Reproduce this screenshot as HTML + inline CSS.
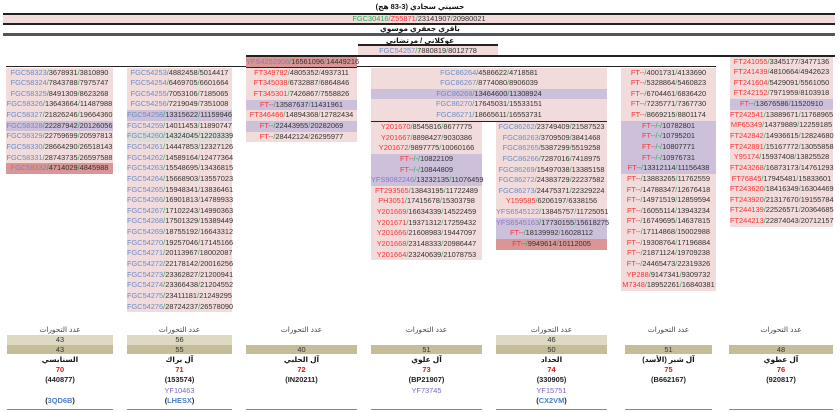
<!DOCTYPE html>
<html><head><meta charset="utf-8"><style>
*{margin:0;padding:0;box-sizing:border-box}
body{width:840px;height:412px;background:#fff;position:relative;overflow:hidden;font-family:"Liberation Sans","DejaVu Sans",sans-serif;font-size:7.4px;color:#333}
.a{position:absolute}
.c{position:absolute;text-align:center}
.c div{height:10.65px;line-height:10.65px;background:#f2dcdb;white-space:nowrap}
.c div.p{background:#ccc0da}.c div.d{background:#da9694}.c div.g{background:#dcdcd8}
b,i,u,s{font-weight:normal;font-style:normal;text-decoration:none}
b{color:#6c8cc6}i{color:#ff3030}u{color:#8a78be}s{color:#1fb050}
.ln{position:absolute;background:#222}
.t{position:absolute;text-align:center;font-weight:bold;color:#111;font-size:7.4px}
.bc{position:absolute;text-align:center;font-size:7.4px}
.bc .l{height:10px;line-height:10px;color:#444}
.bc .r1{height:9.5px;line-height:9.5px;background:#ddd9c3}
.bc .r2{height:9.5px;line-height:9.5px;background:#c4bd97}
.bc .e{height:9.5px}
.bc .n{height:10.5px;line-height:11px;font-weight:bold;color:#111}
.bc .x{height:10.5px;line-height:10.5px;font-weight:bold;color:#e01010}
.bc .k{height:10.5px;line-height:10.5px;font-weight:bold;color:#222}
.bc .y{height:10.5px;line-height:10.5px;color:#7b68b6}
.bc .q{height:10.5px;line-height:10.5px;font-weight:bold;color:#222}
.bc .q span{color:#4a7ec8}
.bc .bl{height:1.5px;background:#888;margin-top:2px}
</style></head><body>
<div class="t" style="left:0;width:840px;top:2px">حسيني سجادي (3-83 هج)</div>
<div class="ln" style="left:3px;width:832px;top:13px;height:2px"></div>
<div class="c" style="left:3px;width:832px;top:15px"><div style="height:8px;line-height:8px"><s>FGC30416</s><s>/</s><i>Z55871</i><s>/</s>23141907<s>/</s>20980021</div></div>
<div class="ln" style="left:3px;width:832px;top:23px;height:2px"></div>
<div class="t" style="left:0;width:840px;top:24px">باقري جعفري موسوي</div>
<div class="ln" style="left:3px;width:832px;top:33px;height:2.5px;background:#555"></div>
<div class="t" style="left:0;width:840px;top:36px">عوكلاني / مرتضاني</div>
<div class="ln" style="left:358px;width:140px;top:44px;height:1.5px"></div>
<div class="c" style="left:358px;width:140px;top:45.5px"><div style="height:9px;line-height:9px"><b>FGC54257</b><s>/</s>7880819<s>/</s>8012778</div></div>
<div class="ln" style="left:246px;width:589px;top:55px;height:1.5px"></div>
<div class="ln" style="left:6px;width:710px;top:66px;height:1.3px"></div>

<div class="c" style="left:6px;width:107px;top:67.5px">
<div><b>FGC58323</b><s>/</s>3678931<s>/</s>3810890</div>
<div><b>FGC58324</b><s>/</s>7843788<s>/</s>7975747</div>
<div><b>FGC58325</b><s>/</s>8491309<s>/</s>8623268</div>
<div><b>FGC58326</b><s>/</s>13643664<s>/</s>11487988</div>
<div><b>FGC58327</b><s>/</s>21826246<s>/</s>19664360</div>
<div class="p"><b>FGC58328</b><s>/</s>22287942<s>/</s>20126056</div>
<div><b>FGC58329</b><s>/</s>22759699<s>/</s>20597813</div>
<div><b>FGC58330</b><s>/</s>28664290<s>/</s>26518143</div>
<div><b>FGC58331</b><s>/</s>28743735<s>/</s>26597588</div>
<div class="d"><b>FGC58332</b><s>/</s>4714029<s>/</s>4845988</div>
</div>

<div class="c" style="left:127px;width:105px;top:67.5px">
<div><b>FGC54253</b><s>/</s>4882458<s>/</s>5014417</div>
<div><b>FGC54254</b><s>/</s>6469705<s>/</s>6601664</div>
<div><b>FGC54255</b><s>/</s>7053106<s>/</s>7185065</div>
<div><b>FGC54256</b><s>/</s>7219049<s>/</s>7351008</div>
<div class="p"><b>FGC54258</b><s>/</s>13315622<s>/</s>11159946</div>
<div><b>FGC54259</b><s>/</s>14011453<s>/</s>11890747</div>
<div class="g"><b>FGC54260</b><s>/</s>14324045<s>/</s>12203339</div>
<div><b>FGC54261</b><s>/</s>14447853<s>/</s>12327126</div>
<div><b>FGC54262</b><s>/</s>14589164<s>/</s>12477364</div>
<div><b>FGC54263</b><s>/</s>15548695<s>/</s>13436815</div>
<div><b>FGC54264</b><s>/</s>15668903<s>/</s>13557023</div>
<div><b>FGC54265</b><s>/</s>15948341<s>/</s>13836461</div>
<div><b>FGC54266</b><s>/</s>16901813<s>/</s>14789933</div>
<div><b>FGC54267</b><s>/</s>17102243<s>/</s>14990363</div>
<div><b>FGC54268</b><s>/</s>17501329<s>/</s>15389449</div>
<div><b>FGC54269</b><s>/</s>18755192<s>/</s>16643312</div>
<div><b>FGC54270</b><s>/</s>19257046<s>/</s>17145166</div>
<div><b>FGC54271</b><s>/</s>20113967<s>/</s>18002087</div>
<div><b>FGC54272</b><s>/</s>22178142<s>/</s>20016256</div>
<div><b>FGC54273</b><s>/</s>23362827<s>/</s>21200941</div>
<div><b>FGC54274</b><s>/</s>23366438<s>/</s>21204552</div>
<div><b>FGC54275</b><s>/</s>23411181<s>/</s>21249295</div>
<div><b>FGC54276</b><s>/</s>28724237<s>/</s>26578090</div>
</div>

<div class="c" style="left:246px;width:111px;top:56.5px">
<div class="d" style="height:10px;line-height:10px"><u>YFS4252908</u><s>/</s>16561096<s>/</s>14449216</div>
<div style="height:1.3px;background:#222"></div>
<div><i>FT349782</i><s>/</s>4805352<s>/</s>4937311</div>
<div><i>FT345038</i><s>/</s>6732887<s>/</s>6864846</div>
<div><i>FT345301</i><s>/</s>7426867<s>/</s>7558826</div>
<div class="p"><i>FT--</i><s>/</s>13587637<s>/</s>11431961</div>
<div><i>FT346466</i><s>/</s>14894368<s>/</s>12782434</div>
<div class="p"><i>FT--</i><s>/</s>22443955<s>/</s>20282069</div>
<div><i>FT--</i><s>/</s>28442124<s>/</s>26295977</div>
</div>

<div class="c" style="left:371px;width:236px;top:67.5px">
<div><b>FGC86264</b><s>/</s>4586622<s>/</s>4718581</div>
<div><b>FGC86267</b><s>/</s>8774080<s>/</s>8906039</div>
<div class="p"><b>FGC86268</b><s>/</s>13464600<s>/</s>11308924</div>
<div><b>FGC86270</b><s>/</s>17645031<s>/</s>15533151</div>
<div><b>FGC86271</b><s>/</s>18665611<s>/</s>16553731</div>
</div>
<div class="ln" style="left:371px;width:236px;top:120.5px;height:1.5px"></div>

<div class="c" style="left:371px;width:111px;top:122px">
<div><i>Y201670</i><s>/</s>8545816<s>/</s>8677775</div>
<div><i>Y201667</i><s>/</s>8898427<s>/</s>9030386</div>
<div><i>Y201672</i><s>/</s>9897775<s>/</s>10060166</div>
<div class="p"><i>FT--</i><s>/-/</s>10822109</div>
<div class="p"><i>FT--</i><s>/-/</s>10844809</div>
<div class="p"><u>YFS9082246</u><s>/</s>13232135<s>/</s>11076459</div>
<div><i>FT293565</i><s>/</s>13843195<s>/</s>11722489</div>
<div><i>PH3051</i><s>/</s>17415678<s>/</s>15303798</div>
<div><i>Y201669</i><s>/</s>16634339<s>/</s>14522459</div>
<div><i>Y201671</i><s>/</s>19371312<s>/</s>17259432</div>
<div><i>Y201666</i><s>/</s>21608983<s>/</s>19447097</div>
<div><i>Y201668</i><s>/</s>23148333<s>/</s>20986447</div>
<div><i>Y201664</i><s>/</s>23240639<s>/</s>21078753</div>
</div>

<div class="c" style="left:496px;width:111px;top:122px">
<div><b>FGC86262</b><s>/</s>23749409<s>/</s>21587523</div>
<div><b>FGC86263</b><s>/</s>3709509<s>/</s>3841468</div>
<div><b>FGC86265</b><s>/</s>5387299<s>/</s>5519258</div>
<div><b>FGC86266</b><s>/</s>7287016<s>/</s>7418975</div>
<div><b>FGC86269</b><s>/</s>15497038<s>/</s>13385158</div>
<div><b>FGC86272</b><s>/</s>24383729<s>/</s>22237582</div>
<div><b>FGC86273</b><s>/</s>24475371<s>/</s>22329224</div>
<div><i>Y159585</i><s>/</s>6206197<s>/</s>6338156</div>
<div><u>YFS6545122</u><s>/</s>13845757<s>/</s>11725051</div>
<div class="p"><u>YFS6545163</u><s>/</s>17730155<s>/</s>15618275</div>
<div class="p"><i>FT--</i><s>/</s>18139992<s>/</s>16028112</div>
<div class="d"><i>FT--</i><s>/</s>9949614<s>/</s>10112005</div>
</div>

<div class="c" style="left:621px;width:95px;top:67.5px">
<div><i>FT--</i><s>/</s>4001731<s>/</s>4133690</div>
<div><i>FT--</i><s>/</s>5328864<s>/</s>5460823</div>
<div><i>FT--</i><s>/</s>6704461<s>/</s>6836420</div>
<div><i>FT--</i><s>/</s>7235771<s>/</s>7367730</div>
<div><i>FT--</i><s>/</s>8669215<s>/</s>8801174</div>
<div class="p"><i>FT--</i><s>/-/</s>10782801</div>
<div class="p"><i>FT--</i><s>/-/</s>10795201</div>
<div class="p"><i>FT--</i><s>/-/</s>10807771</div>
<div class="p"><i>FT--</i><s>/-/</s>10976731</div>
<div class="p"><i>FT--</i><s>/</s>13312114<s>/</s>11156438</div>
<div><i>FT--</i><s>/</s>13883265<s>/</s>11762559</div>
<div><i>FT--</i><s>/</s>14788347<s>/</s>12676418</div>
<div><i>FT--</i><s>/</s>14971519<s>/</s>12859594</div>
<div><i>FT--</i><s>/</s>16055114<s>/</s>13943234</div>
<div><i>FT--</i><s>/</s>16749695<s>/</s>14637815</div>
<div><i>FT--</i><s>/</s>17114868<s>/</s>15002988</div>
<div><i>FT--</i><s>/</s>19308764<s>/</s>17196884</div>
<div><i>FT--</i><s>/</s>21871124<s>/</s>19709238</div>
<div><i>FT--</i><s>/</s>24465473<s>/</s>22319326</div>
<div><i>YP288</i><s>/</s>9147341<s>/</s>9309732</div>
<div><i>M7348</i><s>/</s>18952261<s>/</s>16840381</div>
</div>

<div class="c" style="left:730px;width:103px;top:56.5px">
<div><i>FT241055</i><s>/</s>3345177<s>/</s>3477136</div>
<div><i>FT241439</i><s>/</s>4810664<s>/</s>4942623</div>
<div><i>FT241604</i><s>/</s>5429091<s>/</s>5561050</div>
<div><i>FT242152</i><s>/</s>7971959<s>/</s>8103918</div>
<div class="p"><i>FT--</i><s>/</s>13676586<s>/</s>11520910</div>
<div><i>FT242541</i><s>/</s>13889671<s>/</s>11768965</div>
<div><i>MF65349</i><s>/</s>14379889<s>/</s>12259185</div>
<div><i>FT242842</i><s>/</s>14936615<s>/</s>12824680</div>
<div><i>FT242891</i><s>/</s>15167772<s>/</s>13055858</div>
<div><i>Y95174</i><s>/</s>15937408<s>/</s>13825528</div>
<div><i>FT243268</i><s>/</s>16873173<s>/</s>14761293</div>
<div><i>FT76845</i><s>/</s>17945481<s>/</s>15833601</div>
<div><i>FT243620</i><s>/</s>18416349<s>/</s>16304469</div>
<div><i>FT243920</i><s>/</s>21317670<s>/</s>19155784</div>
<div><i>FT244139</i><s>/</s>22526571<s>/</s>20364685</div>
<div><i>FT244213</i><s>/</s>22874043<s>/</s>20712157</div>
</div>

<div class="bc" style="left:7px;width:106px;top:325px"><div class="l">عدد التحورات</div><div class="r1">43</div><div class="r2">43</div><div class="n">السنابسي</div><div class="x">70</div><div class="k">(440877)</div><div class="y"></div><div class="q">(<span>3QD6B</span>)</div><div class="bl"></div></div>
<div class="bc" style="left:127px;width:105px;top:325px"><div class="l">عدد التحورات</div><div class="r1">56</div><div class="r2">55</div><div class="n">آل براك</div><div class="x">71</div><div class="k">(153574)</div><div class="y">YF10463</div><div class="q">(<span>LHESX</span>)</div><div class="bl"></div></div>
<div class="bc" style="left:246px;width:111px;top:325px"><div class="l">عدد التحورات</div><div class="e"></div><div class="r2">40</div><div class="n">آل الحلبي</div><div class="x">72</div><div class="k">(IN20211)</div><div class="y"></div><div class="q"></div><div class="bl"></div></div>
<div class="bc" style="left:371px;width:111px;top:325px"><div class="l">عدد التحورات</div><div class="e"></div><div class="r2">51</div><div class="n">آل علوي</div><div class="x">73</div><div class="k">(BP21907)</div><div class="y">YF73745</div><div class="q"></div><div class="bl"></div></div>
<div class="bc" style="left:496px;width:111px;top:325px"><div class="l">عدد التحورات</div><div class="r1">46</div><div class="r2">50</div><div class="n">الحداد</div><div class="x">74</div><div class="k">(330905)</div><div class="y">YF15751</div><div class="q">(<span>CX2VM</span>)</div><div class="bl"></div></div>
<div class="bc" style="left:625px;width:87px;top:325px"><div class="l">عدد التحورات</div><div class="e"></div><div class="r2">51</div><div class="n">آل شبر (الأسد)</div><div class="x">75</div><div class="k">(B662167)</div><div class="y"></div><div class="q"></div><div class="bl"></div></div>
<div class="bc" style="left:729px;width:104px;top:325px"><div class="l">عدد التحورات</div><div class="e"></div><div class="r2">48</div><div class="n">آل عطوي</div><div class="x">76</div><div class="k">(920817)</div><div class="y"></div><div class="q"></div><div class="bl"></div></div>
</body></html>
